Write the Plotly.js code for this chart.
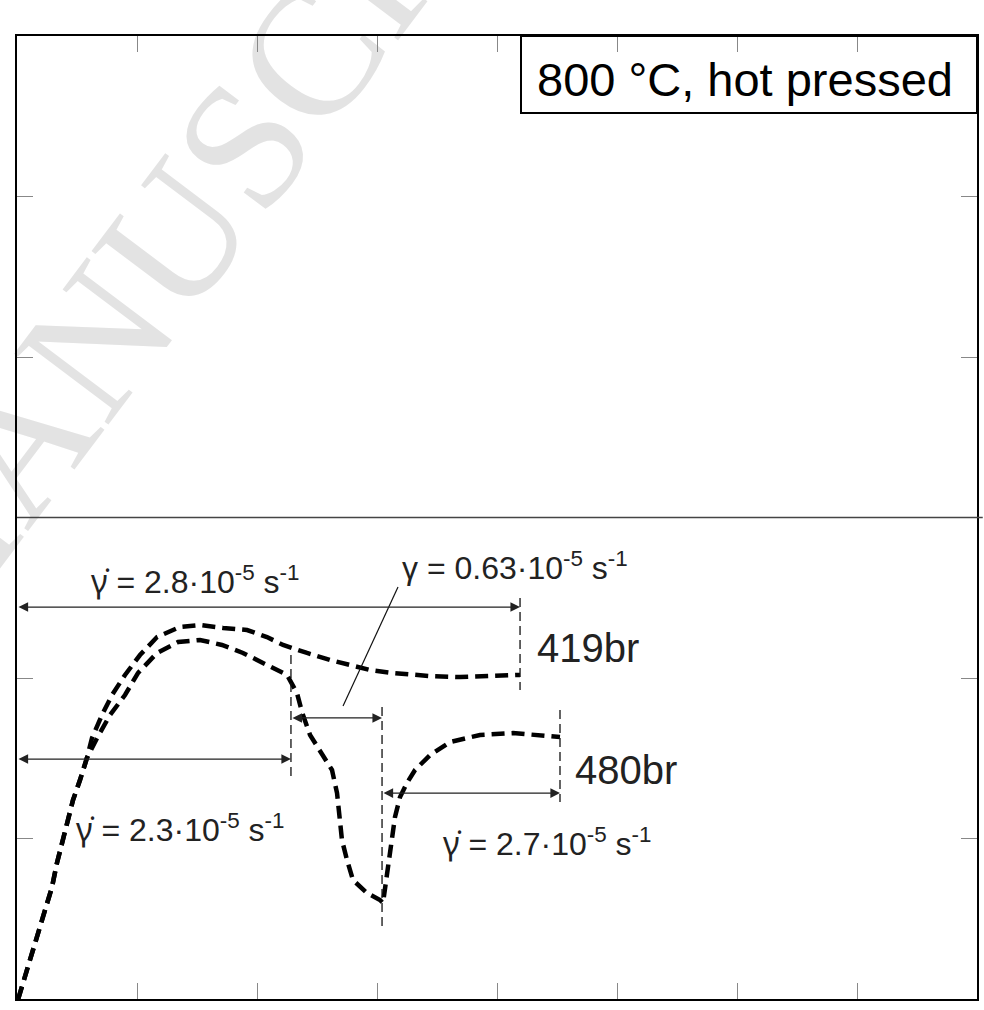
<!DOCTYPE html>
<html>
<head>
<meta charset="utf-8">
<script src="https://cdn.plot.ly/plotly-3.0.1.min.js"></script>
<style>
  html, body { margin: 0; padding: 0; background: #ffffff; }
  #wrap { position: relative; width: 984px; height: 1010px; overflow: hidden; }
  #wm { position: absolute; left: 232px; top: 161px; transform: translate(-50%, -50%) rotate(-53deg);
        font-family: "Liberation Serif", "Times New Roman", serif; font-size: 180px; line-height: 1;
        color: #e3e3e3; white-space: nowrap; z-index: 0; }
  #chart { position: absolute; left: 0; top: 0; z-index: 1; }
</style>
</head>
<body>
<div id="wrap">
  <div id="wm">MANUSCRIPT</div>
  <div id="chart"></div>
</div>
<script>
// ---- data (axes carry no numeric labels) ----
const x419 = [0.01, 0.083, 0.133, 0.192, 0.233, 0.292, 0.333, 0.375, 0.417, 0.467, 0.525, 0.583,
              0.625, 0.708, 0.792, 0.900, 1.025, 1.167, 1.358, 1.525, 1.717, 1.917, 2.083, 2.217,
              2.417, 2.608, 2.775, 2.942, 3.133, 3.300, 3.442, 3.692, 4.000, 4.192];
const y419 = [0.00, 0.181, 0.305, 0.430, 0.555, 0.698, 0.847, 0.972, 1.097, 1.240, 1.364, 1.502,
              1.626, 1.769, 1.894, 2.019, 2.143, 2.255, 2.318, 2.330, 2.312, 2.299, 2.255, 2.206,
              2.156, 2.112, 2.081, 2.050, 2.031, 2.019, 2.012, 2.006, 2.012, 2.019];

const x480 = [0.01, 0.083, 0.133, 0.192, 0.233, 0.292, 0.333, 0.375, 0.417, 0.467, 0.525, 0.583,
              0.667, 0.775, 0.900, 1.008, 1.167, 1.342, 1.525, 1.708, 1.883, 2.083, 2.250,
              2.333, 2.375, 2.442, 2.542, 2.625, 2.667, 2.692, 2.708, 2.750, 2.800, 2.917,
              3.025, 3.050, 3.067, 3.092, 3.125, 3.150, 3.192, 3.250, 3.317, 3.442, 3.608,
              3.858, 4.133, 4.358, 4.525];
const y480 = [0.00, 0.181, 0.305, 0.430, 0.555, 0.698, 0.847, 0.972, 1.097, 1.240, 1.364, 1.502,
              1.626, 1.769, 1.894, 2.031, 2.156, 2.224, 2.237, 2.206, 2.156, 2.081, 2.019,
              1.907, 1.788, 1.645, 1.520, 1.427, 1.283, 1.115, 0.991, 0.866, 0.741, 0.660,
              0.617, 0.598, 0.698, 0.847, 0.991, 1.134, 1.259, 1.346, 1.427, 1.520, 1.601,
              1.645, 1.657, 1.645, 1.632];

const seriesNames = ["419br", "480br"];
// strain-rate stage boundaries (x) of sample 480br and the single stage of 419br
const stages480 = [0, 2.283, 3.042, x480[x480.length - 1]];
const stages419 = [0, x419[x419.length - 1]];
const GDOT = "<span style=\"font-family:'Noto Sans'\">γ̇</span>";
const rateLabels480 = [GDOT + " = 2.3·10<sup>-5</sup> s<sup>-1</sup>",
                       "γ = 0.63·10<sup>-5</sup> s<sup>-1</sup>",
                       GDOT + " = 2.7·10<sup>-5</sup> s<sup>-1</sup>"];
const rateLabel419 = GDOT + " = 2.8·10<sup>-5</sup> s<sup>-1</sup>";
const panelTitle = "800 °C, hot pressed";

// ---- styling / layout ----
const FONT = "Liberation Sans, Arial, Helvetica, sans-serif";
const curveLine = {color: "#000000", width: 4.5, dash: "13px,7px"};

const traces = [
  {x: x419, y: y419, name: seriesNames[0], mode: "lines", line: curveLine, hoverinfo: "skip"},
  {x: x480, y: y480, name: seriesNames[1], mode: "lines", line: curveLine, hoverinfo: "skip"}
];

function vdash(x, y0, y1) {
  return {type: "line", xref: "x", yref: "y", x0: x, x1: x, y0: y0, y1: y1,
          line: {color: "#111", width: 1.3, dash: "9px,5px"}};
}
function arrow(xa, xb, y) {
  return {x: xb, y: y, ax: xa, ay: y, xref: "x", yref: "y", axref: "x", ayref: "y",
          text: "", showarrow: true, arrowside: "end+start", arrowhead: 2, startarrowhead: 2,
          arrowsize: 1.6, startarrowsize: 1.6, arrowwidth: 1.2, arrowcolor: "#222",
          standoff: 0, startstandoff: 0};
}
function label(text, x, y, size) {
  return {x: x, y: y, xref: "x", yref: "y", text: text, showarrow: false,
          xanchor: "center", yanchor: "middle",
          font: {family: FONT, size: size, color: "#222"}};
}

const shapes = [
  // horizontal reference line across the panel
  {type: "line", xref: "paper", yref: "y", x0: 0, x1: 1.006, y0: 3, y1: 3,
   line: {color: "#444", width: 1.5}},
  // title box
  {type: "rect", xref: "paper", yref: "paper", x0: 0.525, x1: 1, y0: 0.92, y1: 1,
   line: {color: "#000", width: 2}, fillcolor: "rgba(255,255,255,0)"},
  // stage boundary markers
  vdash(stages419[1], 2.498, 1.925),
  vdash(stages480[1], 2.143, 1.383),
  vdash(stages480[2], 1.819, 0.442),
  vdash(stages480[3], 1.801, 1.227),
  // leader line for the 0.63 label
  {type: "line", xref: "x", yref: "y", x0: 3.175, y0: 2.567, x1: 2.717, y1: 1.826,
   line: {color: "#111", width: 1.2}}
];

const annotations = [
  arrow(stages419[0], stages419[1], 2.442),
  arrow(stages480[0], stages480[1], 1.495),
  arrow(stages480[1], stages480[2], 1.751),
  arrow(stages480[2], stages480[3], 1.283),
  label(rateLabel419, 1.483, 2.605, 32),
  label(rateLabels480[0], 1.358, 1.06, 32),
  label(rateLabels480[1], 4.146, 2.70, 32),
  label(rateLabels480[2], 4.417, 0.972, 32),
  label(seriesNames[0], 4.758, 2.19, 40),
  label(seriesNames[1], 5.075, 1.427, 40),
  {x: 0.758, y: 0.955, xref: "paper", yref: "paper", text: panelTitle, showarrow: false,
   xanchor: "center", yanchor: "middle", font: {family: FONT, size: 47, color: "#000"}}
];

const axisCommon = {
  showticklabels: false, ticks: "inside", ticklen: 16, tickwidth: 1, tickcolor: "#888",
  showline: true, linecolor: "#000", linewidth: 2, mirror: "ticks",
  showgrid: false, zeroline: false, fixedrange: true, dtick: 1, tick0: 0
};

const layout = {
  width: 984, height: 1010,
  margin: {l: 17, r: 7, t: 36, b: 11, pad: 0},
  paper_bgcolor: "rgba(0,0,0,0)", plot_bgcolor: "rgba(0,0,0,0)",
  showlegend: false,
  xaxis: Object.assign({range: [0, 8]}, axisCommon),
  yaxis: Object.assign({range: [0, 6]}, axisCommon),
  shapes: shapes,
  annotations: annotations,
  font: {family: FONT}
};

Plotly.newPlot("chart", traces, layout, {displayModeBar: false, staticPlot: true});
</script>
</body>
</html>
